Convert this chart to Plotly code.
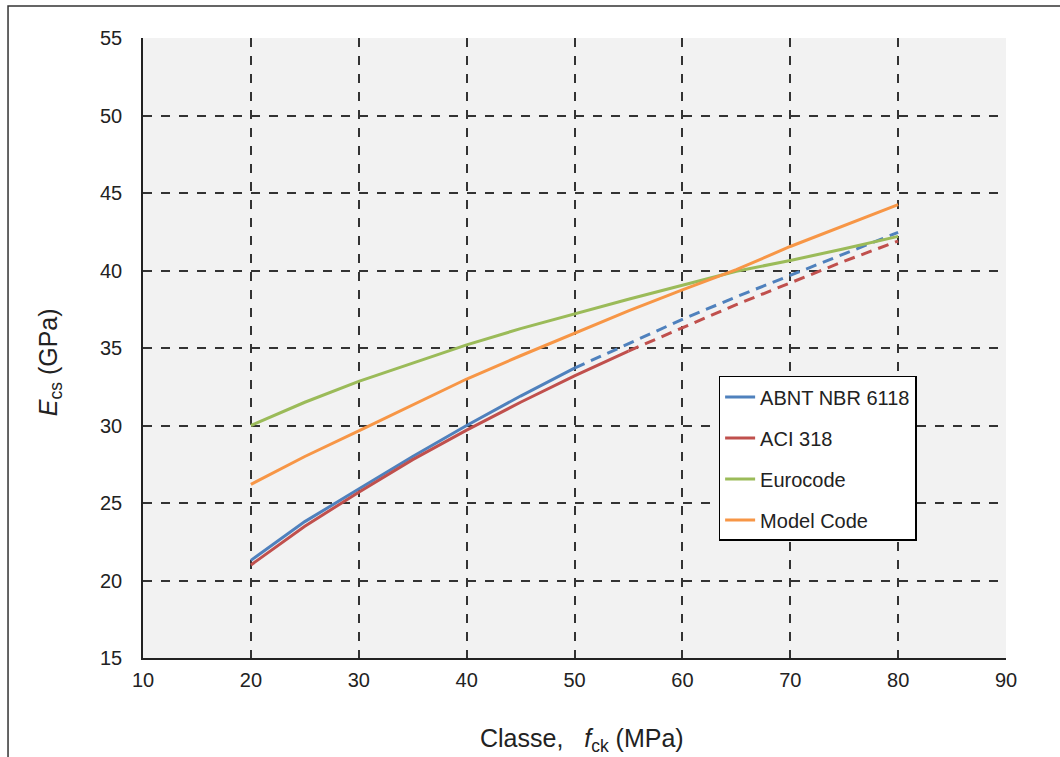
import plotly.graph_objects as go

fck = [20, 25, 30, 35, 40, 45, 50, 55, 60, 65, 70, 75, 80]
abnt = [21.3, 23.8, 25.9, 28.0, 30.0, 31.9, 33.7, 35.3, 36.85, 38.3, 39.7, 41.1, 42.46]
aci = [21.0, 23.5, 25.7, 27.8, 29.7, 31.5, 33.2, 34.8, 36.3, 37.8, 39.2, 40.6, 41.9]
euro = [30.0, 31.5, 32.85, 34.05, 35.2, 36.25, 37.2, 38.15, 39.05, 39.95, 40.65, 41.4, 42.2]
model = [26.2, 28.0, 29.65, 31.35, 33.0, 34.5, 35.95, 37.4, 38.75, 40.05, 41.55, 42.9, 44.25]

names = ["ABNT NBR 6118", "ACI 318", "Eurocode", "Model Code"]
colors = ["#4f81bd", "#c0504d", "#9bbb59", "#f79646"]
solid_end = [50, 55, 80, 80]
series = [abnt, aci, euro, model]

fig = go.Figure()
for name, col, ys, se in zip(names, colors, series, solid_end):
    xs_s = [x for x in fck if x <= se]
    ys_s = [y for x, y in zip(fck, ys) if x <= se]
    fig.add_trace(go.Scatter(x=xs_s, y=ys_s, mode="lines", name=name,
                             legendgroup=name,
                             line=dict(color=col, width=3)))
    if se < 80:
        xs_d = [x for x in fck if x >= se]
        ys_d = [y for x, y in zip(fck, ys) if x >= se]
        fig.add_trace(go.Scatter(x=xs_d, y=ys_d, mode="lines", name=name,
                                 legendgroup=name, showlegend=False,
                                 line=dict(color=col, width=3, dash="11px,7px")))

font = "Liberation Sans, Arial, sans-serif"
fig.update_layout(
    width=1060, height=757,
    margin=dict(l=143, r=54, t=38, b=99),
    paper_bgcolor="white",
    plot_bgcolor="#f2f2f2",
    font=dict(family=font, size=18, color="#222"),
    showlegend=True,
    legend=dict(x=0.667, y=0.455, xanchor="left", yanchor="top",
                bgcolor="white", bordercolor="black", borderwidth=1.5,
                font=dict(size=20, color="#222"),
                tracegroupgap=12, traceorder="grouped",
                itemwidth=30),
    xaxis=dict(range=[10, 90], tickvals=[10, 20, 30, 40, 50, 60, 70, 80, 90],
               showgrid=True, gridcolor="#333", gridwidth=1.5, griddash="dash",
               showline=True, linecolor="#222", linewidth=1.5,
               ticks="", ticklabelstandoff=3, zeroline=False,
               tickfont=dict(size=20, color="#222")),
    yaxis=dict(range=[15, 55], tickvals=[15, 20, 25, 30, 35, 40, 45, 50, 55],
               showgrid=True, gridcolor="#333", gridwidth=1.5, griddash="dash",
               showline=True, linecolor="#222", linewidth=1.5,
               ticks="", ticklabelstandoff=15, zeroline=False,
               tickfont=dict(size=20, color="#222")),
    annotations=[
        dict(text="Classe,&nbsp;&nbsp;&nbsp;<i>f</i><sub>ck</sub>&nbsp;(MPa)",
             xref="paper", yref="paper", x=0.5087, y=-0.1323,
             xanchor="center", yanchor="middle", showarrow=False,
             font=dict(size=25, color="#222")),
        dict(text="<i>E</i><sub>cs</sub>&nbsp;(GPa)",
             xref="paper", yref="paper", x=-0.1078, y=0.477,
             xanchor="center", yanchor="middle", showarrow=False,
             textangle=-90, font=dict(size=25, color="#222")),
    ],
    shapes=[dict(type="rect", xref="paper", yref="paper",
                 x0=-0.1564, x1=1.2, y0=-0.4, y1=1.0516,
                 line=dict(color="#333", width=1.5), layer="below")],
)
fig.write_html("out.html")
